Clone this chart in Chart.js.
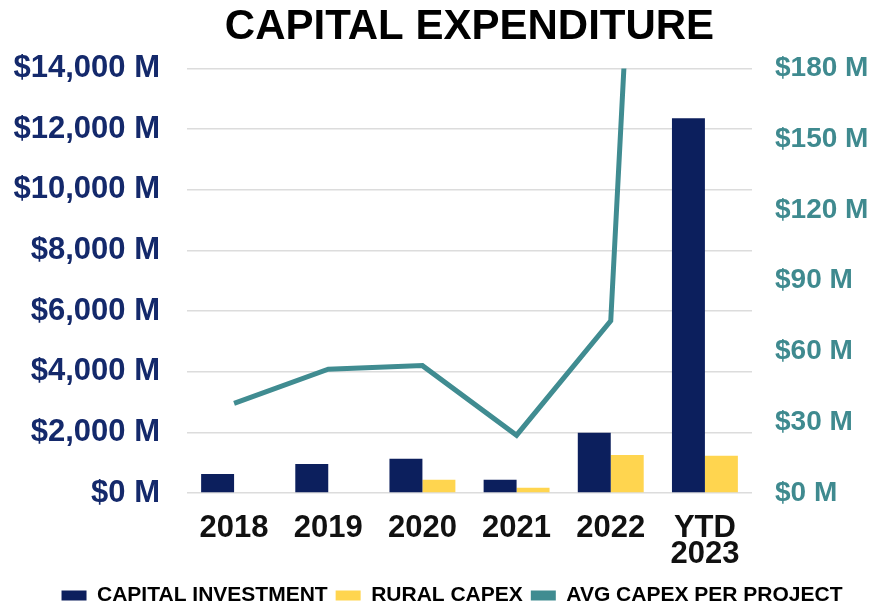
<!DOCTYPE html>
<html>
<head>
<meta charset="utf-8">
<script src="https://cdn.jsdelivr.net/npm/chart.js@4"></script>
<style>
  body { margin: 0; background: #fff; }
  #wrap { width: 874px; height: 605px; }
</style>
</head>
<body>
<div id="wrap"><canvas id="capexChart" width="874" height="605"></canvas></div>
<script>
// categories and series ($ millions)
const years = ['2018', '2019', '2020', '2021', '2022', ['YTD', '2023']]
const capitalInvestment = [625, 960, 1130, 440, 1990, 12360]
const ruralCapex = [0, 0, 440, 175, 1250, 1230]
const avgPerProject = [38, 52.5, 54, 24.5, 73, 840]

const navy = '#0c1f5d'
const yellow = '#ffd54f'
const teal = '#408c91'
const font = 'Liberation Sans, Arial, sans-serif'

const money = v => '$' + Number(v).toLocaleString('en-US') + ' M'

// nudge the legend row a little to the right, under the plot
const legendShift = {
  id: 'legendShift',
  afterLayout(chart) {
    chart.legend.left += 12
    chart.legend.right += 12
  }
}

const data = {
  labels: years,
  datasets: [{
    label: 'CAPITAL INVESTMENT',
    data: capitalInvestment,
    backgroundColor: navy,
    yAxisID: 'y',
    order: 1
  }, {
    label: 'RURAL CAPEX',
    data: ruralCapex,
    backgroundColor: yellow,
    yAxisID: 'y',
    order: 1
  }, {
    type: 'line',
    label: 'AVG CAPEX PER PROJECT',
    data: avgPerProject,
    borderColor: teal,
    backgroundColor: teal,
    borderWidth: 5,
    pointRadius: 0,
    tension: 0,
    yAxisID: 'y1',
    order: 0
  }]
}

const config = {
  type: 'bar',
  data: data,
  plugins: [legendShift],
  options: {
    responsive: false,
    devicePixelRatio: 1,
    animation: false,
    layout: { padding: { left: 12, right: 6, top: 0, bottom: -11 } },
    datasets: { bar: { categoryPercentage: 0.7, barPercentage: 1.0 } },
    plugins: {
      tooltip: { enabled: false },
      title: {
        display: true,
        fullSize: false,
        text: 'CAPITAL EXPENDITURE',
        color: '#000',
        font: { family: font, size: 42, weight: 'bold' },
        padding: { top: 2, bottom: 16 }
      },
      legend: {
        position: 'bottom',
        labels: {
          color: '#111',
          font: { family: font, size: 21, weight: 'bold', lineHeight: 1 },
          boxWidth: 25,
          boxHeight: 10,
          padding: 8,
          generateLabels: chart => chart.data.datasets.map((ds, i) => ({
            text: ds.label,
            fillStyle: ds.type === 'line' ? ds.borderColor : ds.backgroundColor,
            strokeStyle: 'transparent',
            lineWidth: 0,
            datasetIndex: i
          }))
        }
      }
    },
    scales: {
      x: {
        grid: { display: false },
        border: { display: false },
        afterFit: scale => { scale.height = 84 },
        ticks: {
          color: '#111',
          font: { family: font, size: 31, weight: 'bold', lineHeight: 0.82 },
          padding: 15,
          maxRotation: 0
        }
      },
      y: {
        position: 'left',
        min: 0,
        max: 14000,
        grid: { color: '#dcdcdc', lineWidth: 1.5, drawTicks: false },
        border: { display: false },
        afterFit: scale => { scale.width = 175 },
        ticks: {
          stepSize: 2000,
          color: '#14296b',
          font: { family: font, size: 31, weight: 'bold' },
          padding: 27,
          callback: money
        }
      },
      y1: {
        position: 'right',
        min: 0,
        max: 180,
        grid: { display: false, drawTicks: false },
        border: { display: false },
        afterFit: scale => { scale.width = 116 },
        ticks: {
          stepSize: 30,
          color: '#3f8a8f',
          font: { family: font, size: 28, weight: 'bold' },
          padding: 23,
          callback: money
        }
      }
    }
  }
}

const myChart = new Chart(document.getElementById('capexChart'), config)
</script>
</body>
</html>
